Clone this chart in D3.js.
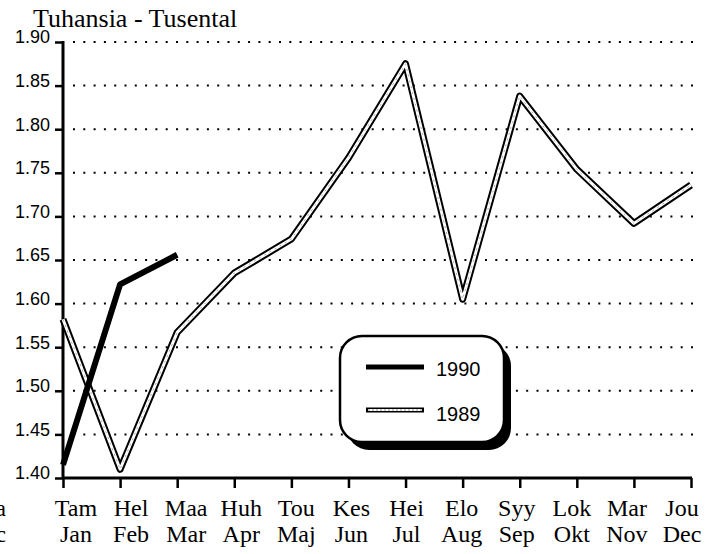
<!DOCTYPE html>
<html>
 <head>
  <meta charset="utf-8" />
  <title>Tuhansia - Tusental</title>
  <script src="https://cdn.jsdelivr.net/npm/d3@7"></script>
  <style>
    body { margin: 0; background: #fff; }
  </style>
 </head>
 <body>
  <script>
    var monthsFi = ["Tam", "Hel", "Maa", "Huh", "Tou", "Kes", "Hei", "Elo", "Syy", "Lok", "Mar", "Jou"],
        monthsSv = ["Jan", "Feb", "Mar", "Apr", "Maj", "Jun", "Jul", "Aug", "Sep", "Okt", "Nov", "Dec"],
        yTicks   = [1.40, 1.45, 1.50, 1.55, 1.60, 1.65, 1.70, 1.75, 1.80, 1.85, 1.90];

    var values1990 = [1.415, 1.622, 1.656];
    var values1989 = [1.582, 1.41, 1.567, 1.635, 1.674, 1.767, 1.875, 1.605, 1.838, 1.754, 1.692, 1.736];

    var w = 710, h = 554;

    var x = d3.scalePoint().domain(d3.range(12)).range([63, 691]),
        xLab = d3.scalePoint().domain(d3.range(12)).range([76, 682]),
        y = d3.scaleLinear().domain([1.40, 1.90]).range([478, 42]);

    var svg = d3.select("body")
      .append("svg")
        .attr("width", w)
        .attr("height", h);

    var serif = "'Liberation Serif', 'Times New Roman', serif",
        sans  = "'Liberation Sans', Arial, sans-serif";

    // title
    svg.append("text")
      .attr("x", 33).attr("y", 27)
      .style("font-family", serif)
      .style("font-size", "26px")
      .text("Tuhansia - Tusental");

    // cut-off letters at the left edge
    svg.append("text").attr("x", 6).attr("y", 516).attr("text-anchor", "end")
      .style("font-family", serif).style("font-size", "23px").text("a");
    svg.append("text").attr("x", 6).attr("y", 542).attr("text-anchor", "end")
      .style("font-family", serif).style("font-size", "23px").text("c");

    // dotted grid
    svg.append("g").selectAll("line")
      .data(yTicks.slice(1))
      .enter().append("line")
        .attr("x1", 73).attr("x2", 694)
        .attr("y1", function(d) { return y(d); })
        .attr("y2", function(d) { return y(d); })
        .attr("stroke", "#000")
        .attr("stroke-width", 2)
        .attr("stroke-dasharray", "2,8.3");

    // y axis
    var yAxis = d3.axisLeft(y)
      .tickValues(yTicks)
      .tickSize(8)
      .tickPadding(5)
      .tickFormat(d3.format(".2f"));

    var gy = svg.append("g")
      .attr("transform", "translate(63,0)")
      .call(yAxis);
    gy.select(".domain").remove();
    gy.selectAll(".tick line").attr("stroke-width", 2.5);
    gy.selectAll("text")
      .attr("dy", "0.05em")
      .style("font-family", sans)
      .style("font-size", "18px")
      .attr("fill", "#000");
    gy.append("line")
      .attr("x1", 0).attr("x2", 0)
      .attr("y1", y(1.90) - 1).attr("y2", y(1.40) + 1)
      .attr("stroke", "#000").attr("stroke-width", 3);

    // x axis
    var xAxis = d3.axisBottom(x).tickSize(10).tickFormat("");
    var gx = svg.append("g")
      .attr("transform", "translate(0," + y(1.40) + ")")
      .call(xAxis);
    gx.select(".domain").remove();
    gx.selectAll(".tick line").attr("stroke-width", 2.5);
    gx.append("line")
      .attr("x1", 62).attr("x2", 692)
      .attr("stroke", "#000").attr("stroke-width", 3);

    // month labels, two rows
    [[monthsFi, 516], [monthsSv, 542]].forEach(function(row) {
      svg.append("g").selectAll("text")
        .data(row[0])
        .enter().append("text")
          .attr("x", function(d, i) { return xLab(i); })
          .attr("y", row[1])
          .attr("text-anchor", "middle")
          .style("font-family", serif)
          .style("font-size", "24px")
          .text(function(d) { return d; });
    });

    var line = d3.line()
      .x(function(d, i) { return x(i); })
      .y(function(d) { return y(d); });

    // 1989: hollow double line
    svg.append("path").datum(values1989)
      .attr("d", line).attr("fill", "none")
      .attr("stroke", "#000").attr("stroke-width", 7)
      .attr("stroke-linejoin", "round");
    svg.append("path").datum(values1989)
      .attr("d", line).attr("fill", "none")
      .attr("stroke", "#fff").attr("stroke-width", 3)
      .attr("stroke-linejoin", "round");
    svg.append("path").datum(values1989)
      .attr("d", line).attr("fill", "none")
      .attr("stroke", "#aaa").attr("stroke-width", 1)
      .attr("stroke-dasharray", "2,4");

    // 1990: solid heavy line
    svg.append("path").datum(values1990)
      .attr("d", line).attr("fill", "none")
      .attr("stroke", "#000").attr("stroke-width", 6)
      .attr("stroke-linejoin", "round");

    // legend
    var legend = svg.append("g");
    legend.append("rect")
      .attr("x", 347).attr("y", 344).attr("width", 164).attr("height", 106)
      .attr("rx", 22).attr("fill", "#000");
    legend.append("rect")
      .attr("x", 340).attr("y", 336).attr("width", 164).attr("height", 106)
      .attr("rx", 22).attr("fill", "#fff")
      .attr("stroke", "#000").attr("stroke-width", 2.5);

    legend.append("line")
      .attr("x1", 366).attr("x2", 424).attr("y1", 367).attr("y2", 367)
      .attr("stroke", "#000").attr("stroke-width", 5);
    legend.append("line")
      .attr("x1", 366).attr("x2", 424).attr("y1", 410).attr("y2", 410)
      .attr("stroke", "#000").attr("stroke-width", 5);
    legend.append("line")
      .attr("x1", 368).attr("x2", 422).attr("y1", 410).attr("y2", 410)
      .attr("stroke", "#fff").attr("stroke-width", 2);
    legend.append("line")
      .attr("x1", 368).attr("x2", 422).attr("y1", 410).attr("y2", 410)
      .attr("stroke", "#999").attr("stroke-width", 1).attr("stroke-dasharray", "2,2");

    legend.selectAll("text.lab")
      .data(["1990", "1989"])
      .enter().append("text")
        .attr("class", "lab")
        .attr("x", 436)
        .attr("y", function(d, i) { return 376 + i * 45; })
        .style("font-family", sans)
        .style("font-size", "20px")
        .text(function(d) { return d; });
  </script>
 </body>
</html>
